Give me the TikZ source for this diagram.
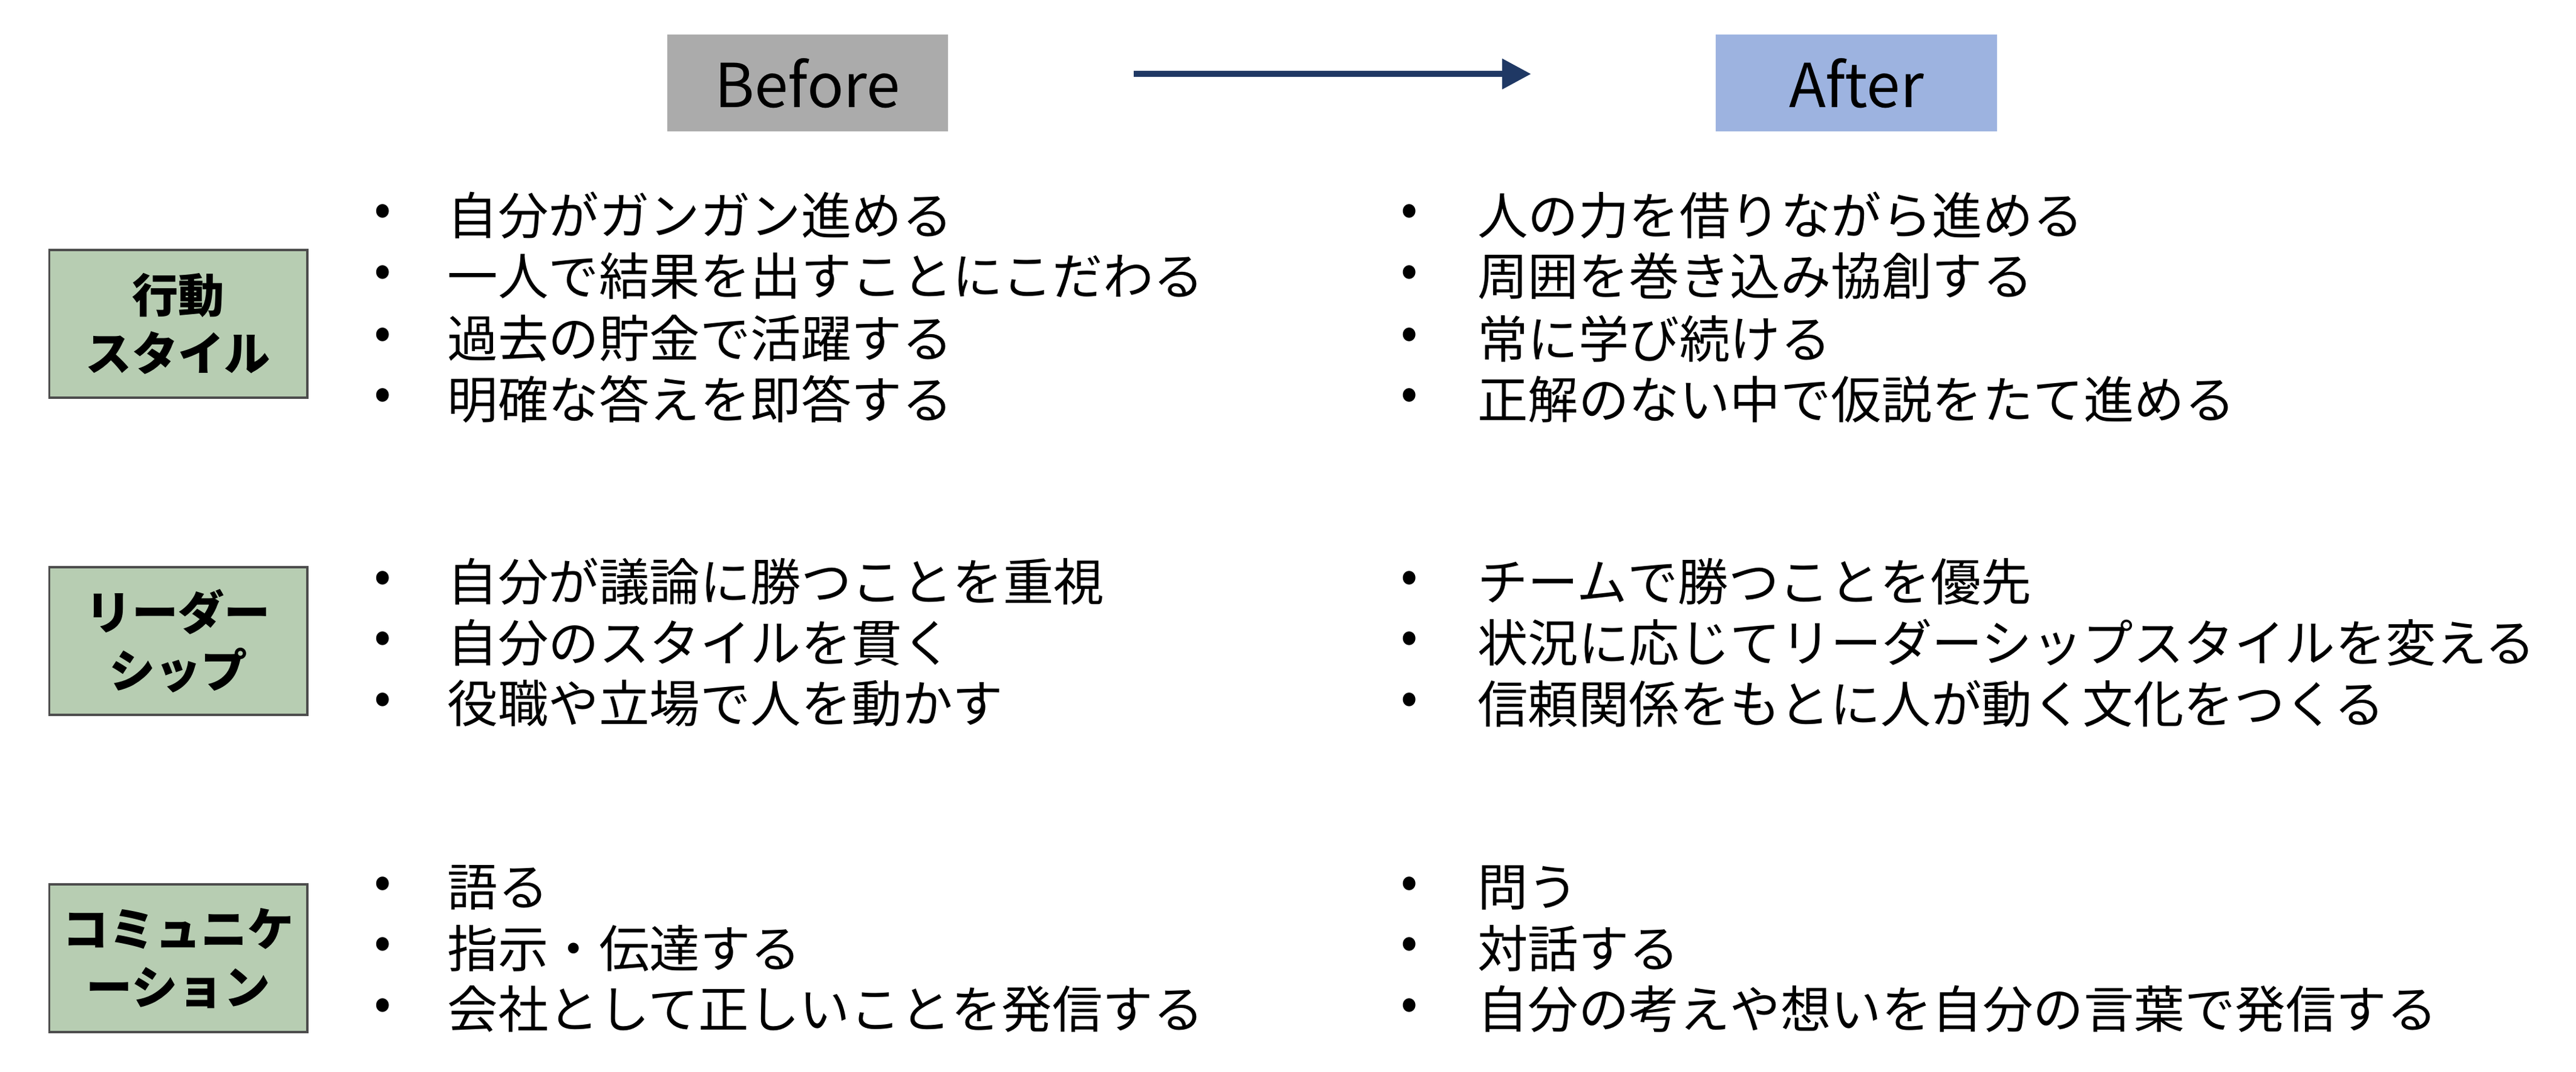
\documentclass[tikz,border=0pt]{standalone}
\usepackage{fontspec}
\setmainfont{Noto Sans CJK JP}
\usetikzlibrary{arrows.meta}
\definecolor{navy}{HTML}{1F3864}
\definecolor{bgray}{HTML}{ABABAB}
\definecolor{ablue}{HTML}{9DB3E0}
\definecolor{lgreen}{HTML}{B7CDB2}
\tikzset{
  hdr/.style={minimum width=3.42cm,minimum height=1.18cm,inner sep=0pt,font=\fontsize{21}{26}\selectfont},
  cat/.style={draw=black!70,line width=0.8pt,fill=lgreen,minimum width=3.14cm,minimum height=1.8cm,inner sep=0pt,align=center,font=\fontsize{16}{20}\selectfont\bfseries},
  item/.style={anchor=west,inner sep=0pt,font=\fontsize{17.5}{21}\selectfont},
  bul/.style={inner sep=0pt,font=\fontsize{17.5}{21}\selectfont}
}
\begin{document}
\begin{tikzpicture}[x=0.02cm,y=-0.02cm]
\useasboundingbox (0,0) rectangle (1568,652);
\node[hdr,fill=bgray] (before) at (491.5,50.5) {Before};
\node[hdr,fill=ablue] (after) at (1130,50.5) {After};
\coordinate (a1) at (690,45); \coordinate (a2) at (932,45);
\draw[navy,line width=2.2pt,-{Triangle[length=10pt,width=10pt]}] (a1) -- (a2);
\node[cat] (c1) at (108.5,197) {行動\\スタイル};
\node[cat] (c2) at (108.5,390) {リーダー\\シップ};
\node[cat] (c3) at (108.5,583) {コミュニケ\\ーション};
\foreach \y/\t [count=\i] in {131/自分がガンガン進める,168/一人で結果を出すことにこだわる,206/過去の貯金で活躍する,243/明確な答えを即答する,
  354/自分が議論に勝つことを重視,391/自分のスタイルを貫く,428/役職や立場で人を動かす,
  540/語る,577/指示・伝達する,614/会社として正しいことを発信する}
  {\node[bul] (lb\i) at (233,\y) {•}; \node[item] (lt\i) at (272,\y) {\t};}
\foreach \y/\t [count=\i] in {131/人の力を借りながら進める,168/周囲を巻き込み協創する,206/常に学び続ける,243/正解のない中で仮説をたて進める,
  354/チームで勝つことを優先,391/状況に応じてリーダーシップスタイルを変える,428/信頼関係をもとに人が動く文化をつくる,
  540/問う,577/対話する,614/自分の考えや想いを自分の言葉で発信する}
  {\node[bul] (rb\i) at (858,\y) {•}; \node[item] (rt\i) at (899,\y) {\t};}
\end{tikzpicture}
\end{document}
